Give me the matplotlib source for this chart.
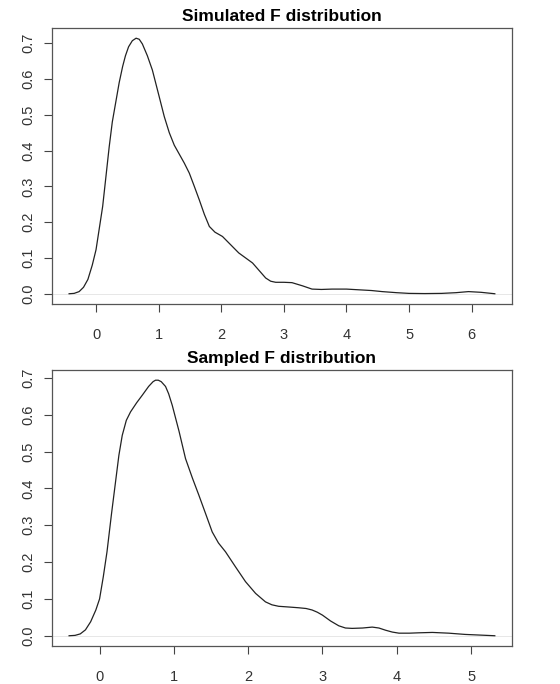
import matplotlib.pyplot as plt

plt.rcParams['font.family'] = ['Liberation Sans', 'DejaVu Sans']

# density estimates
sim_x = [-0.43, -0.35, -0.27, -0.2, -0.13, -0.06, 0.0, 0.05, 0.106, 0.16, 0.21, 0.26, 0.32,
         0.37, 0.425, 0.47, 0.52, 0.58, 0.64, 0.69, 0.74, 0.82, 0.90, 1.01, 1.09, 1.17, 1.25,
         1.33, 1.41, 1.49, 1.57, 1.65, 1.73, 1.81, 1.9, 2.02, 2.15, 2.28, 2.39, 2.50, 2.61,
         2.71, 2.79, 2.87, 3.0, 3.13, 3.3, 3.45, 3.6, 3.77, 4.0, 4.2, 4.4, 4.57, 4.8, 5.0,
         5.25, 5.52, 5.75, 5.95, 6.15, 6.37]
sim_y = [0.0, 0.001, 0.006, 0.018, 0.04, 0.08, 0.123, 0.18, 0.244, 0.33, 0.41, 0.48, 0.54,
         0.59, 0.635, 0.665, 0.69, 0.707, 0.714, 0.711, 0.698, 0.665, 0.625, 0.55, 0.495,
         0.45, 0.415, 0.39, 0.365, 0.337, 0.30, 0.262, 0.222, 0.188, 0.172, 0.16, 0.137,
         0.114, 0.10, 0.086, 0.064, 0.044, 0.035, 0.032, 0.032, 0.031, 0.022, 0.013, 0.012,
         0.013, 0.013, 0.011, 0.009, 0.006, 0.003, 0.001, 0.0005, 0.001, 0.003, 0.006, 0.004,
         0.0]

smp_x = [-0.41, -0.33, -0.26, -0.19, -0.12, -0.05, 0.0, 0.05, 0.10, 0.16, 0.215, 0.26,
         0.305, 0.36, 0.417, 0.5, 0.574, 0.66, 0.72, 0.753, 0.79, 0.83, 0.888, 0.93, 0.978,
         1.07, 1.157, 1.25, 1.336, 1.43, 1.516, 1.6, 1.695, 1.83, 1.964, 2.1, 2.233, 2.32,
         2.41, 2.55, 2.68, 2.78, 2.86, 2.93, 3.0, 3.11, 3.22, 3.31, 3.40, 3.54, 3.67, 3.76,
         3.85, 3.94, 4.03, 4.17, 4.30, 4.48, 4.7, 4.92, 5.1, 5.32]
smp_y = [0.0, 0.001, 0.005, 0.016, 0.038, 0.07, 0.10, 0.16, 0.228, 0.33, 0.418, 0.49,
         0.544, 0.585, 0.608, 0.633, 0.653, 0.677, 0.69, 0.694, 0.694, 0.69, 0.677, 0.657,
         0.626, 0.555, 0.481, 0.428, 0.382, 0.33, 0.282, 0.252, 0.228, 0.187, 0.147, 0.115,
         0.092, 0.084, 0.080, 0.078, 0.076, 0.074, 0.070, 0.064, 0.056, 0.04, 0.027, 0.021,
         0.020, 0.021, 0.0235, 0.021, 0.015, 0.01, 0.007, 0.007, 0.008, 0.009, 0.007, 0.0036,
         0.002, 0.0]

panels = [
    ('Simulated F distribution', sim_x, sim_y, [0, 1, 2, 3, 4, 5, 6]),
    ('Sampled F distribution', smp_x, smp_y, [0, 1, 2, 3, 4, 5]),
]
y_ticks = [0.0, 0.1, 0.2, 0.3, 0.4, 0.5, 0.6, 0.7]

fig = plt.figure(figsize=(5.6, 6.84), dpi=100)
rects = [[0.093, 0.5556, 0.821, 0.4035], [0.093, 0.0556, 0.821, 0.4035]]

for rect, (title, xs, ys, xt) in zip(rects, panels):
    ax = fig.add_axes(rect)
    ax.plot(xs, ys, color='#222222', lw=0.9)
    ax.axhline(0, color='#dddddd', lw=0.5, zorder=0)
    pad_x = 0.04 * (max(xs) - min(xs))
    pad_y = 0.04 * max(ys)
    ax.set_xlim(min(xs) - pad_x, max(xs) + pad_x)
    ax.set_ylim(-pad_y, max(ys) + pad_y)
    ax.set_xticks(xt)
    ax.set_yticks(y_ticks)
    ax.set_yticklabels(['%.1f' % v for v in y_ticks], rotation=90, va='center')
    ax.tick_params(direction='out', length=6, width=0.8, colors='#444444',
                   labelsize=10.5, labelcolor='#333333')
    ax.tick_params(axis='x', pad=11)
    ax.tick_params(axis='y', pad=6)
    for s in ax.spines.values():
        s.set_color('#555555')
        s.set_linewidth(0.9)
    ax.set_title(title, fontsize=12.5, fontweight='bold', pad=5)

plt.savefig('out.png')
